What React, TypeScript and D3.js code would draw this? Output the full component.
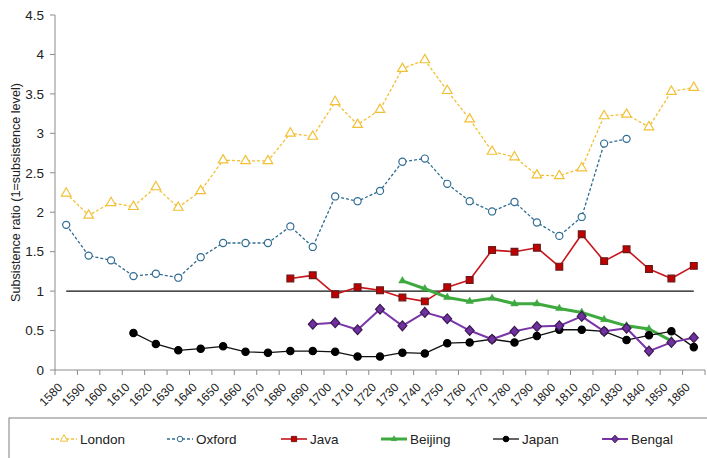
import React from "react";
import * as d3 from "d3";

const years = [1580, 1590, 1600, 1610, 1620, 1630, 1640, 1650, 1660, 1670, 1680, 1690, 1700, 1710, 1720, 1730, 1740, 1750, 1760, 1770, 1780, 1790, 1800, 1810, 1820, 1830, 1840, 1850, 1860];

type V = number | null;
const london: V[] = [2.24, 1.96, 2.12, 2.07, 2.32, 2.06, 2.27, 2.66, 2.65, 2.65, 3.0, 2.96, 3.4, 3.11, 3.3, 3.82, 3.93, 3.54, 3.18, 2.77, 2.7, 2.47, 2.46, 2.56, 3.22, 3.24, 3.08, 3.53, 3.58];
const oxford: V[] = [1.84, 1.45, 1.39, 1.19, 1.22, 1.17, 1.43, 1.61, 1.61, 1.61, 1.82, 1.56, 2.2, 2.14, 2.27, 2.64, 2.68, 2.36, 2.14, 2.01, 2.13, 1.87, 1.7, 1.94, 2.87, 2.93, null, null, null];
const java: V[] = [null, null, null, null, null, null, null, null, null, null, 1.16, 1.2, 0.96, 1.05, 1.01, 0.92, 0.87, 1.05, 1.14, 1.52, 1.5, 1.55, 1.31, 1.72, 1.38, 1.53, 1.28, 1.16, 1.32];
const beijing: V[] = [null, null, null, null, null, null, null, null, null, null, null, null, null, null, null, 1.13, 1.03, 0.92, 0.87, 0.91, 0.84, 0.84, 0.78, 0.73, 0.64, 0.56, 0.52, 0.37, null];
const japan: V[] = [null, null, null, 0.47, 0.33, 0.25, 0.27, 0.3, 0.23, 0.22, 0.24, 0.24, 0.23, 0.17, 0.17, 0.22, 0.21, 0.34, 0.35, 0.39, 0.35, 0.43, 0.51, 0.51, 0.49, 0.38, 0.44, 0.49, 0.29];
const bengal: V[] = [null, null, null, null, null, null, null, null, null, null, null, 0.58, 0.6, 0.51, 0.77, 0.56, 0.73, 0.65, 0.5, 0.39, 0.49, 0.55, 0.56, 0.68, 0.49, 0.53, 0.24, 0.35, 0.41];
const subsistence: V[] = years.map(() => 1);

const yTicks = [0, 0.5, 1, 1.5, 2, 2.5, 3, 3.5, 4, 4.5];
const yTickLabels = ["0", "0.5", "1", "1.5", "2", "2.5", "3", "3.5", "4", "4.5"];
const yTitle = "Subsistence ratio (1=subsistence level)";

// rhombus marker, slightly taller than wide
const symbolRhombus: d3.SymbolType = {
  draw(context: any, size: number) {
    const w = Math.sqrt(size / 2) * 0.95;
    const h = Math.sqrt(size / 2) * 1.05;
    context.moveTo(0, -h);
    context.lineTo(w, 0);
    context.lineTo(0, h);
    context.lineTo(-w, 0);
    context.closePath();
  },
};

type Series = {
  name: string;
  values: V[];
  color: string;
  width: number;
  dash?: string;
  symbol: d3.SymbolType;
  size: number;
  fill: string;
  stroke: string;
  legendX: number;
};

const series: Series[] = [
  { name: "London", values: london, color: "#F2C037", width: 1.3, dash: "3,2", symbol: d3.symbolTriangle, size: 40, fill: "#FFFFFF", stroke: "#F2C037", legendX: 51 },
  { name: "Oxford", values: oxford, color: "#2F6C93", width: 1.3, dash: "3,2", symbol: d3.symbolCircle, size: 40, fill: "#FFFFFF", stroke: "#2F6C93", legendX: 167 },
  { name: "Java", values: java, color: "#C8141B", width: 1.6, symbol: d3.symbolSquare, size: 46, fill: "#C00000", stroke: "#6B1A1A", legendX: 281 },
  { name: "Beijing", values: beijing, color: "#3EA93E", width: 3, symbol: d3.symbolTriangle, size: 24, fill: "#3EA93E", stroke: "#3EA93E", legendX: 381 },
  { name: "Japan", values: japan, color: "#111111", width: 1.3, symbol: d3.symbolCircle, size: 42, fill: "#000000", stroke: "#000000", legendX: 493 },
  { name: "Bengal", values: bengal, color: "#7A35A8", width: 2, symbol: symbolRhombus, size: 44, fill: "#7030A0", stroke: "#3A1A50", legendX: 602 },
];

const W = 707;
const H = 458;
const left = 55;
const right = 705;
const top = 15;
const bottom = 370;

export default function App() {
  const x = d3.scaleBand<number>().domain(years).range([left, right]).padding(0);
  const cx = (yr: number) => (x(yr) as number) + x.bandwidth() / 2;
  const y = d3.scaleLinear().domain([0, 4.5]).range([bottom, top]);

  const lineGen = d3
    .line<{ yr: number; v: V }>()
    .defined((d) => d.v != null)
    .x((d) => cx(d.yr))
    .y((d) => y(d.v as number));

  const pts = (vals: V[]) => years.map((yr, i) => ({ yr, v: vals[i] }));
  const font = "'Liberation Sans', Arial, sans-serif";
  const axisColor = "#8C8C8C";

  const legendY = 439;

  return (
    <svg width={W} height={H} style={{ position: "absolute", left: 0, top: 0, background: "#fff" }} fontFamily={font}>
      {/* Y axis */}
      <line x1={left} x2={left} y1={top} y2={bottom} stroke={axisColor} strokeWidth={1} />
      {yTicks.map((t, i) => (
        <g key={t}>
          <line x1={left - 5} x2={left} y1={y(t)} y2={y(t)} stroke={axisColor} />
          <text x={44} y={y(t)} dy="0.35em" textAnchor="end" fontSize={13.5} fill="#222">
            {yTickLabels[i]}
          </text>
        </g>
      ))}
      <text
        transform={`translate(16,192.5) rotate(-90)`}
        textAnchor="middle"
        fontSize={12.6}
        fill="#222"
        dy="0.35em"
      >
        {yTitle}
      </text>

      {/* X axis */}
      <line x1={left} x2={right} y1={bottom} y2={bottom} stroke={axisColor} />
      {years.map((yr) => (
        <line key={"t" + yr} x1={x(yr) as number} x2={x(yr) as number} y1={bottom} y2={bottom + 5} stroke={axisColor} />
      ))}
      <line x1={right} x2={right} y1={bottom} y2={bottom + 5} stroke={axisColor} />
      {years.map((yr) => (
        <text
          key={"l" + yr}
          transform={`translate(${cx(yr) - 3},${bottom + 18}) rotate(-45)`}
          textAnchor="end"
          fontSize={12}
          fill="#222"
        >
          {yr}
        </text>
      ))}

      {/* subsistence line */}
      <path d={lineGen(pts(subsistence)) || ""} fill="none" stroke="#111" strokeWidth={1.3} />

      {/* series */}
      {series.map((s) => (
        <g key={s.name}>
          <path
            d={lineGen(pts(s.values)) || ""}
            fill="none"
            stroke={s.color}
            strokeWidth={s.width}
            strokeDasharray={s.dash}
            strokeLinejoin="round"
          />
          {pts(s.values)
            .filter((d) => d.v != null)
            .map((d) => (
              <path
                key={d.yr}
                d={d3.symbol(s.symbol, s.size)() || ""}
                transform={`translate(${cx(d.yr)},${y(d.v as number)})`}
                fill={s.fill}
                stroke={s.stroke}
                strokeWidth={s.name === "Beijing" ? 0.5 : 1.2}
              />
            ))}
        </g>
      ))}

      {/* Legend */}
      <rect x={9} y={418} width={720} height={60} fill="none" stroke="#7F7F7F" strokeWidth={1} />
      {series.map((s) => (
        <g key={"lg" + s.name}>
          <line
            x1={s.legendX}
            x2={s.legendX + 26}
            y1={legendY}
            y2={legendY}
            stroke={s.color}
            strokeWidth={s.width}
            strokeDasharray={s.dash}
          />
          <path
            d={d3.symbol(s.symbol, s.size * 0.6)() || ""}
            transform={`translate(${s.legendX + 13},${legendY})`}
            fill={s.fill}
            stroke={s.stroke}
            strokeWidth={s.name === "Beijing" ? 0.5 : 1}
          />
          <text x={s.legendX + 29} y={legendY} dy="0.35em" fontSize={13.5} fill="#222">
            {s.name}
          </text>
        </g>
      ))}
    </svg>
  );
}
